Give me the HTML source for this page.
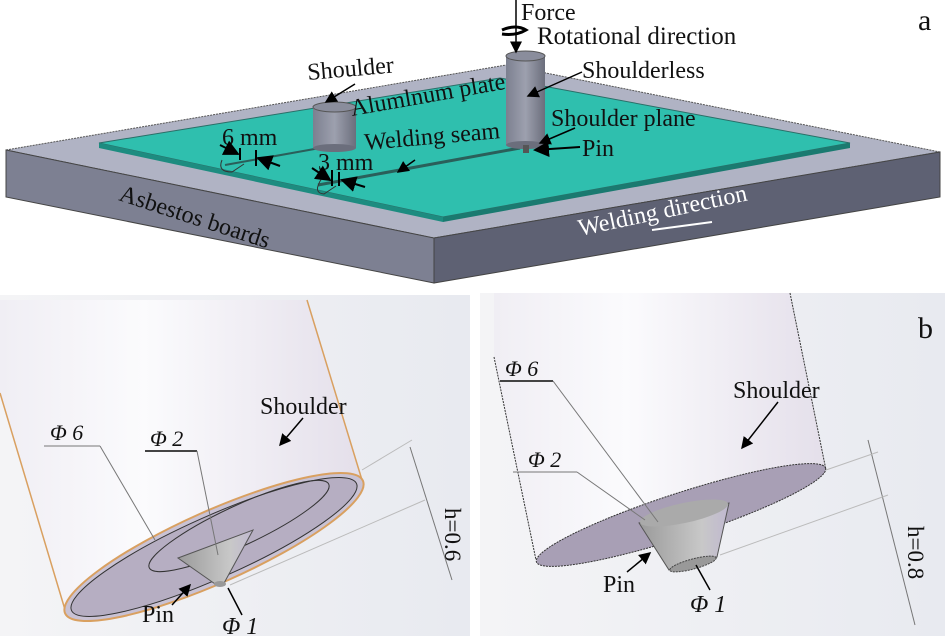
<!DOCTYPE html>
<html><head><meta charset="utf-8"><style>
body{margin:0;background:#fff;overflow:hidden;width:945px;height:636px}
svg{display:block}
text{font-family:"Liberation Serif",serif;fill:#111}
</style></head><body>
<svg width="945" height="636" viewBox="0 0 945 636" xmlns="http://www.w3.org/2000/svg">
<defs>
<linearGradient id="bg" x1="0" y1="0" x2="1" y2="0"><stop offset="0" stop-color="#f4f4f6"/><stop offset="1" stop-color="#e8eaf0"/></linearGradient>
<linearGradient id="cylL" x1="0" y1="0" x2="1" y2="0"><stop offset="0" stop-color="#f0eef4"/><stop offset="0.4" stop-color="#fbfbfd"/><stop offset="1" stop-color="#e4dfea"/></linearGradient>
<linearGradient id="tool" x1="0" y1="0" x2="1" y2="0"><stop offset="0" stop-color="#7c8090"/><stop offset="0.5" stop-color="#9da0ae"/><stop offset="1" stop-color="#6b6e7c"/></linearGradient>
<linearGradient id="pin" x1="0" y1="0" x2="1" y2="0"><stop offset="0" stop-color="#9a9a9a"/><stop offset="0.7" stop-color="#c8c8c8"/><stop offset="1" stop-color="#c0b8d0"/></linearGradient>
<marker id="ar" markerWidth="8" markerHeight="8" refX="7" refY="4" orient="auto"><path d="M0,0 L8,4 L0,8 z" fill="#000"/></marker>
</defs>
<rect width="945" height="636" fill="#fff"/>
<polygon points="6,150 506,65 940,152 434,238" fill="#b0b3c4" stroke="#555" stroke-dasharray="2,1"/>
<polygon points="6,150 434,238 434,283 6,197" fill="#7d8092" stroke="#444"/>
<polygon points="434,238 940,152 940,197 434,283" fill="#5e6173" stroke="#444"/>
<polygon points="99,143 500,78 850,143 443,217" fill="#2fbfae" stroke="#2a6f68"/>
<polygon points="99,143 443,217 443,222 99,148" fill="#1d8c80"/>
<polygon points="443,217 850,143 850,148 443,222" fill="#1a7a70"/>
<line x1="225" y1="165" x2="320" y2="148" stroke="#2a5f5a" stroke-width="2"/>
<line x1="318" y1="185" x2="520" y2="148" stroke="#2a5f5a" stroke-width="3"/>
<path d="M222,160 q-5,12 10,12 l12,-8" fill="none" stroke="#333"/>
<path d="M322,178 q-10,15 2,16 l12,-8" fill="none" stroke="#333"/>
<rect x="313" y="107" width="43" height="41" fill="url(#tool)"/>
<ellipse cx="334.5" cy="107" rx="21.5" ry="5" fill="#8a8d9c" stroke="#555"/>
<ellipse cx="334.5" cy="148" rx="21.5" ry="4" fill="#6b6e7c"/>
<rect x="506" y="56" width="39" height="89" fill="url(#tool)"/>
<ellipse cx="525.5" cy="56" rx="19.5" ry="5" fill="#8a8d9c" stroke="#555"/>
<ellipse cx="525.5" cy="145" rx="19.5" ry="4" fill="#6b6e7c"/>
<rect x="523" y="145" width="6" height="8" fill="#555"/>
<line x1="516" y1="0" x2="516" y2="52" stroke="#000" stroke-width="1.5" marker-end="url(#ar)"/>
<text x="521" y="20" font-size="24">Force</text>
<path d="M502,30 q14,-6 24,0 q-10,6 -24,4" fill="none" stroke="#000" stroke-width="3"/>
<text x="537" y="44" font-size="25">Rotational direction</text>
<text x="918" y="30" font-size="30">a</text>
<text x="308" y="80" font-size="24" transform="rotate(-5 308 80)">Shoulder</text>
<line x1="355" y1="84" x2="326" y2="102" stroke="#000" stroke-width="1.5" marker-end="url(#ar)"/>
<text x="352" y="116" font-size="24" transform="rotate(-10 352 116)">Alumlnum plate</text>
<text x="582" y="78" font-size="24">Shoulderless</text>
<line x1="582" y1="72" x2="528" y2="96" stroke="#000" stroke-width="1.5" marker-end="url(#ar)"/>
<text x="551" y="126" font-size="24">Shoulder plane</text>
<line x1="575" y1="128" x2="540" y2="143" stroke="#000" stroke-width="1.5" marker-end="url(#ar)"/>
<text x="582" y="156" font-size="24">Pin</text>
<line x1="580" y1="147" x2="535" y2="150" stroke="#000" stroke-width="2" marker-end="url(#ar)"/>
<text x="222" y="145" font-size="24">6 mm</text>
<text x="365" y="150" font-size="24" transform="rotate(-5 365 150)">Welding seam</text>
<line x1="415" y1="160" x2="398" y2="172" stroke="#000" stroke-width="1.5" marker-end="url(#ar)"/>
<text x="318" y="170" font-size="24">3 mm</text>
<line x1="220" y1="145" x2="238" y2="154" stroke="#000" stroke-width="2" marker-end="url(#ar)"/>
<line x1="240" y1="148" x2="240" y2="160" stroke="#000" stroke-width="2"/>
<line x1="256" y1="150" x2="256" y2="166" stroke="#000" stroke-width="2"/>
<line x1="280" y1="166" x2="258" y2="158" stroke="#000" stroke-width="2" marker-end="url(#ar)"/>
<line x1="312" y1="168" x2="330" y2="180" stroke="#000" stroke-width="2" marker-end="url(#ar)"/>
<line x1="332" y1="170" x2="332" y2="186" stroke="#000" stroke-width="2"/>
<line x1="339" y1="172" x2="339" y2="186" stroke="#000" stroke-width="2"/>
<line x1="365" y1="187" x2="342" y2="180" stroke="#000" stroke-width="2" marker-end="url(#ar)"/>
<text x="118" y="200" font-size="24" fill="#333" transform="rotate(18 118 200)">Asbestos boards</text>
<text x="580" y="236" font-size="24" style="fill:#fff" transform="rotate(-12 580 236)">Welding direction</text>
<line x1="652" y1="230" x2="712" y2="222" stroke="#fff" stroke-width="2"/>
<rect x="0" y="295" width="470" height="341" fill="url(#bg)"/>
<rect x="480" y="293" width="465" height="343" fill="url(#bg)"/>
<polygon points="0,300 307,300 362,480 66,613 0,393" fill="url(#cylL)"/>
<line x1="307" y1="300" x2="362" y2="480" stroke="#d9a060" stroke-width="1.5"/>
<line x1="0" y1="393" x2="66" y2="613" stroke="#d9a060" stroke-width="1.5"/>
<ellipse cx="214" cy="547" rx="163" ry="36" transform="rotate(-24 214 547)" fill="#c9c2d4" stroke="#d9a060" stroke-width="2"/>
<ellipse cx="214" cy="547" rx="156" ry="31" transform="rotate(-24 214 547)" fill="#b6aec2" stroke="#333"/>
<ellipse cx="239" cy="526" rx="99" ry="20" transform="rotate(-25 239 526)" fill="none" stroke="#333"/>
<polygon points="178,558 253,530 223,585 218,586" fill="url(#pin)" stroke="#555"/>
<ellipse cx="220" cy="584" rx="6" ry="3" fill="#999"/>
<g stroke="#777" fill="none">
<line x1="44" y1="446" x2="100" y2="446"/><line x1="100" y1="446" x2="155" y2="540"/>
<line x1="145" y1="451" x2="197" y2="451" stroke="#444" stroke-width="2"/><line x1="197" y1="451" x2="218" y2="555"/>
<line x1="410" y1="447" x2="452" y2="580"/>
<line x1="362" y1="470" x2="412" y2="440" stroke="#bbb"/>
<line x1="230" y1="585" x2="425" y2="500" stroke="#bbb"/>
</g>
<text x="150" y="446" font-size="22" font-style="italic">Φ 2</text>
<text x="50" y="440" font-size="22" font-style="italic">Φ 6</text>
<text x="260" y="414" font-size="24">Shoulder</text>
<line x1="303" y1="418" x2="280" y2="445" stroke="#000" stroke-width="1.5" marker-end="url(#ar)"/>
<text x="142" y="622" font-size="24">Pin</text>
<line x1="172" y1="605" x2="190" y2="585" stroke="#000" stroke-width="1.5" marker-end="url(#ar)"/>
<line x1="228" y1="588" x2="242" y2="615" stroke="#000" stroke-width="1.5"/>
<text x="222" y="634" font-size="24" font-style="italic">Φ 1</text>
<text x="445" y="508" font-size="23" transform="rotate(90 445 508)">h=0.6</text>
<text x="918" y="338" font-size="30">b</text>
<polygon points="494,357 494,293 790,293 826,470 536,560" fill="url(#cylL)"/>
<line x1="494" y1="357" x2="536" y2="560" stroke="#333" stroke-dasharray="2,1"/>
<line x1="790" y1="293" x2="826" y2="470" stroke="#333" stroke-dasharray="2,1"/>
<ellipse cx="681" cy="515" rx="152" ry="22" transform="rotate(-18 681 515)" fill="#a89fb5" stroke="#333" stroke-dasharray="2,1"/>
<polygon points="639,523 729,503 717,557 669,570" fill="url(#pin)" stroke="#555"/>
<ellipse cx="684" cy="513" rx="45" ry="10" transform="rotate(-12 684 513)" fill="#aaa"/>
<ellipse cx="693" cy="564" rx="24" ry="5" transform="rotate(-15 693 564)" fill="#999" stroke="#444" stroke-dasharray="2,1"/>
<g stroke="#777" fill="none">
<line x1="500" y1="381" x2="553" y2="381" stroke="#444" stroke-width="2"/><line x1="553" y1="381" x2="658" y2="522"/>
<line x1="513" y1="472" x2="577" y2="472"/><line x1="577" y1="472" x2="645" y2="520"/>
<line x1="868" y1="440" x2="915" y2="625"/>
<line x1="826" y1="470" x2="878" y2="452" stroke="#bbb"/>
<line x1="720" y1="555" x2="888" y2="495" stroke="#bbb"/>
</g>
<text x="505" y="376" font-size="22" font-style="italic">Φ 6</text>
<text x="528" y="467" font-size="22" font-style="italic">Φ 2</text>
<text x="733" y="398" font-size="24">Shoulder</text>
<line x1="778" y1="402" x2="742" y2="448" stroke="#000" stroke-width="1.5" marker-end="url(#ar)"/>
<text x="603" y="592" font-size="24">Pin</text>
<line x1="627" y1="572" x2="650" y2="553" stroke="#000" stroke-width="1.5" marker-end="url(#ar)"/>
<line x1="696" y1="565" x2="710" y2="590" stroke="#000" stroke-width="1.5"/>
<text x="690" y="612" font-size="24" font-style="italic">Φ 1</text>
<text x="908" y="526" font-size="23" transform="rotate(90 908 526)">h=0.8</text>
</svg>
</body></html>
